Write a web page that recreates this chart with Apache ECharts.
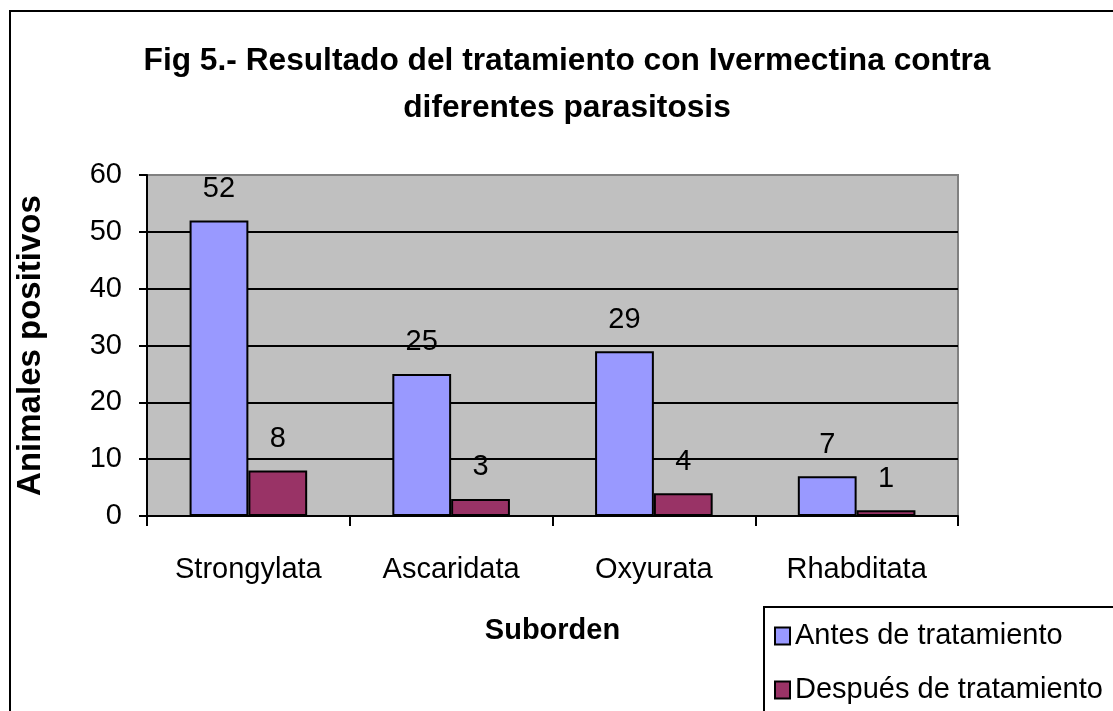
<!DOCTYPE html>
<html>
<head>
<meta charset="utf-8">
<script src="https://cdn.jsdelivr.net/npm/echarts@6/dist/echarts.min.js"></script>
<style>
  html, body { margin: 0; padding: 0; background: #fff; }
  #chart { width: 1113px; height: 711px; }
</style>
</head>
<body>
<div id="chart"></div>
<script>
const categories = ['Strongylata', 'Ascaridata', 'Oxyurata', 'Rhabditata']
const antes = [52, 25, 29, 7]
const despues = [8, 3, 4, 1]
const seriesNames = ['Antes de tratamiento', 'Después de tratamiento']

const font = '"Liberation Sans", Arial, sans-serif'

const chart = echarts.init(document.getElementById('chart'))

const labelStyle = {
  show: true,
  position: 'top',
  distance: 17,
  color: '#000',
  fontSize: 29,
  fontFamily: font
}

// one legend per item so they stack like the original box
const legendBase = {
  left: 774,
  padding: 0,
  itemWidth: 15,
  itemHeight: 17,
  icon: 'rect',
  textStyle: { fontFamily: font, fontSize: 29, lineHeight: 30, color: '#000' }
}

chart.setOption({
  animation: false,
  title: {
    text: 'Fig 5.- Resultado del tratamiento con Ivermectina contra\ndiferentes parasitosis',
    left: 567,
    textAlign: 'center',
    top: 38,
    padding: 0,
    textStyle: {
      fontFamily: font,
      fontWeight: 'bold',
      fontSize: 31.7,
      lineHeight: 47,
      color: '#000'
    }
  },
  graphic: [
    {
      type: 'rect',
      shape: { x: 10, y: 11, width: 1200, height: 800 },
      style: { fill: 'none', stroke: '#000', lineWidth: 2 },
      silent: true
    },
    {
      type: 'rect',
      shape: { x: 764, y: 607, width: 400, height: 200 },
      style: { fill: 'none', stroke: '#000', lineWidth: 2 },
      silent: true
    }
  ],
  legend: [
    Object.assign({ top: 621, data: [seriesNames[0]] }, legendBase),
    Object.assign({ top: 675, data: [seriesNames[1]] }, legendBase)
  ],
  grid: {
    left: 147,
    top: 175,
    width: 811,
    height: 341,
    show: true,
    backgroundColor: '#C0C0C0',
    borderColor: '#808080',
    borderWidth: 2
  },
  xAxis: {
    type: 'category',
    data: categories,
    name: 'Suborden',
    nameLocation: 'middle',
    nameGap: 100,
    nameTextStyle: { fontFamily: font, fontSize: 29, fontWeight: 'bold', color: '#000' },
    axisLine: { lineStyle: { color: '#000', width: 2 } },
    axisTick: { show: true, length: 10, lineStyle: { color: '#000', width: 2 } },
    axisLabel: { margin: 39, fontFamily: font, fontSize: 29, color: '#000' }
  },
  yAxis: {
    type: 'value',
    min: 0,
    max: 60,
    interval: 10,
    name: 'Animales positivos',
    nameLocation: 'middle',
    nameGap: 100,
    nameTextStyle: { fontFamily: font, fontSize: 33, fontWeight: 'bold', color: '#000' },
    axisLine: { show: true, lineStyle: { color: '#000', width: 2 } },
    axisTick: { show: true, length: 8, lineStyle: { color: '#000', width: 2 } },
    axisLabel: { margin: 25, fontFamily: font, fontSize: 29, color: '#000' },
    splitLine: { showMaxLine: false, lineStyle: { color: '#000', width: 2 } }
  },
  series: [
    {
      name: seriesNames[0],
      type: 'bar',
      data: antes,
      barGap: '0%',
      barCategoryGap: '42%',
      itemStyle: { color: '#9999FF', borderColor: '#000', borderWidth: 2 },
      label: labelStyle
    },
    {
      name: seriesNames[1],
      type: 'bar',
      data: despues,
      itemStyle: { color: '#993366', borderColor: '#000', borderWidth: 2 },
      label: labelStyle
    }
  ]
})
</script>
</body>
</html>
